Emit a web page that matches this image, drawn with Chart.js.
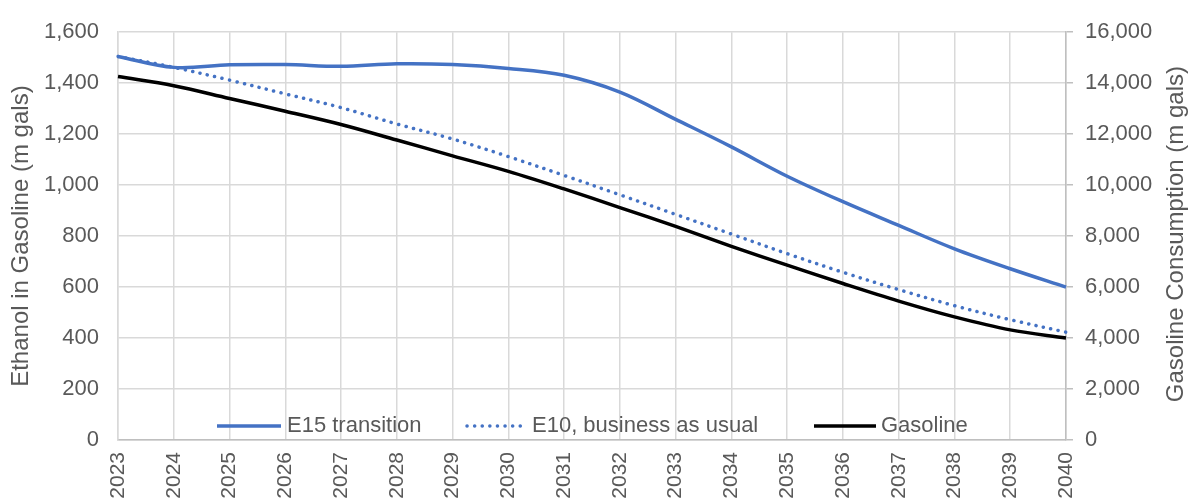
<!DOCTYPE html>
<html>
<head>
<meta charset="utf-8">
<script src="https://cdn.jsdelivr.net/npm/chart.js@4.4.1/dist/chart.umd.min.js"></script>
<style>
  html, body { margin: 0; padding: 0; background: #fff; }
  #wrap { width: 1188px; height: 504px; position: relative; }
</style>
</head>
<body>
<div id="wrap"><canvas id="fuelChart"></canvas></div>
<script>
const years = ['2023', '2024', '2025', '2026', '2027', '2028', '2029', '2030', '2031',
    '2032', '2033', '2034', '2035', '2036', '2037', '2038', '2039', '2040'];

// ethanol, m gals (left axis)
const e15Transition = [1505, 1462, 1472, 1473, 1466, 1476, 1473, 1458, 1431,
    1365, 1258, 1150, 1035, 935, 842, 750, 672, 600];
const e10Business = [1505, 1462, 1412, 1358, 1304, 1240, 1181, 1112, 1038,
    962, 885, 808, 731, 658, 590, 527, 472, 423];

// gasoline consumption, m gals (right axis)
const gasoline = [14260, 13900, 13400, 12900, 12380, 11770, 11150, 10540, 9850,
    9120, 8380, 7600, 6860, 6140, 5450, 4830, 4320, 4000];

const leftTicks = [0, 200, 400, 600, 800, 1000, 1200, 1400, 1600];
const rightTicks = [0, 2000, 4000, 6000, 8000, 10000, 12000, 14000, 16000];

const FONT = '"Liberation Sans", Arial, sans-serif';
const GREY = '#595959';

document.addEventListener('DOMContentLoaded', function() {
    const ctx = document.getElementById('fuelChart').getContext('2d');

    // legend drawn inside the plot, along the bottom
    const insideLegend = {
        id: 'insideLegend',
        afterDatasetsDraw(chart) {
            const c = chart.ctx;
            const y = 426;
            const items = [
                { ds: 0, x0: 217, x1: 281, tx: 287 },
                { ds: 1, x0: 467, x1: 527, tx: 532 },
                { ds: 2, x0: 814, x1: 876, tx: 881 }
            ];
            c.save();
            items.forEach(function(it) {
                const ds = chart.data.datasets[it.ds];
                c.beginPath();
                c.strokeStyle = ds.borderColor;
                c.lineWidth = ds.borderWidth;
                c.lineCap = ds.borderCapStyle || 'butt';
                c.setLineDash(ds.borderDash || []);
                c.moveTo(it.x0, y);
                c.lineTo(it.x1, y);
                c.stroke();
                c.setLineDash([]);
                c.fillStyle = GREY;
                c.font = '22px ' + FONT;
                c.textBaseline = 'middle';
                c.textAlign = 'left';
                c.fillText(ds.label, it.tx, y);
            });
            c.restore();
        }
    };

    // right axis title reads bottom-to-top like the left one
    const rightTitle = {
        id: 'rightTitle',
        afterDraw(chart) {
            const c = chart.ctx;
            const area = chart.chartArea;
            c.save();
            c.translate(1176, (area.top + area.bottom) / 2 - 2);
            c.rotate(-Math.PI / 2);
            c.fillStyle = GREY;
            c.font = '24px ' + FONT;
            c.textAlign = 'center';
            c.textBaseline = 'middle';
            c.fillText('Gasoline Consumption (m gals)', 0, 0);
            c.restore();
        }
    };

    const data = {
        labels: years,
        datasets: [{
            label: 'E15 transition',
            data: e15Transition,
            yAxisID: 'y',
            borderColor: '#4472C4',
            borderWidth: 3.5,
            pointRadius: 0,
            tension: 0.35
        }, {
            label: 'E10, business as usual',
            data: e10Business,
            yAxisID: 'y',
            borderColor: '#4472C4',
            borderWidth: 3.5,
            borderDash: [0.1, 7.5],
            borderCapStyle: 'round',
            pointRadius: 0,
            tension: 0.35
        }, {
            label: 'Gasoline',
            data: gasoline,
            yAxisID: 'y2',
            borderColor: '#000000',
            borderWidth: 3.5,
            pointRadius: 0,
            tension: 0.35
        }]
    };

    const config = {
        type: 'line',
        data: data,
        options: {
            responsive: true,
            maintainAspectRatio: false,
            animation: false,
            layout: { padding: { top: 24, right: 0, bottom: 0, left: 0 } },
            scales: {
                x: {
                    offset: false,
                    grid: { color: '#d9d9d9', lineWidth: 1.5, drawTicks: false },
                    border: { color: '#bfbfbf', width: 1.5 },
                    ticks: {
                        color: GREY,
                        font: { family: FONT, size: 21 },
                        minRotation: 90,
                        maxRotation: 90,
                        autoSkip: false,
                        padding: 12
                    },
                    afterFit: function(scale) { scale.height = 64; }
                },
                y: {
                    position: 'left',
                    min: 0,
                    max: 1600,
                    afterBuildTicks: function(scale) {
                        scale.ticks = leftTicks.map(function(v) { return { value: v }; });
                    },
                    grid: { color: '#d9d9d9', lineWidth: 1.5, drawTicks: false },
                    border: { color: '#d9d9d9', width: 1.5 },
                    ticks: {
                        color: GREY,
                        font: { family: FONT, size: 22 },
                        padding: 19,
                        callback: function(v) { return v.toLocaleString('en-US'); }
                    },
                    title: {
                        display: true,
                        text: 'Ethanol in Gasoline (m gals)',
                        color: GREY,
                        font: { family: FONT, size: 24 },
                        padding: { top: 7, bottom: 0 }
                    },
                    afterFit: function(scale) { scale.width = 118; }
                },
                y2: {
                    position: 'right',
                    min: 0,
                    max: 16000,
                    afterBuildTicks: function(scale) {
                        scale.ticks = rightTicks.map(function(v) { return { value: v }; });
                    },
                    grid: { drawOnChartArea: false, color: '#bfbfbf', lineWidth: 1.5, tickLength: 7 },
                    border: { color: '#bfbfbf', width: 1.5 },
                    ticks: {
                        color: GREY,
                        font: { family: FONT, size: 22 },
                        padding: 12,
                        callback: function(v) { return v.toLocaleString('en-US'); }
                    },
                    afterFit: function(scale) { scale.width = 122; }
                }
            },
            plugins: {
                legend: { display: false },
                tooltip: { enabled: false }
            }
        },
        plugins: [insideLegend, rightTitle]
    };

    new Chart(ctx, config);
});
</script>
</body>
</html>
